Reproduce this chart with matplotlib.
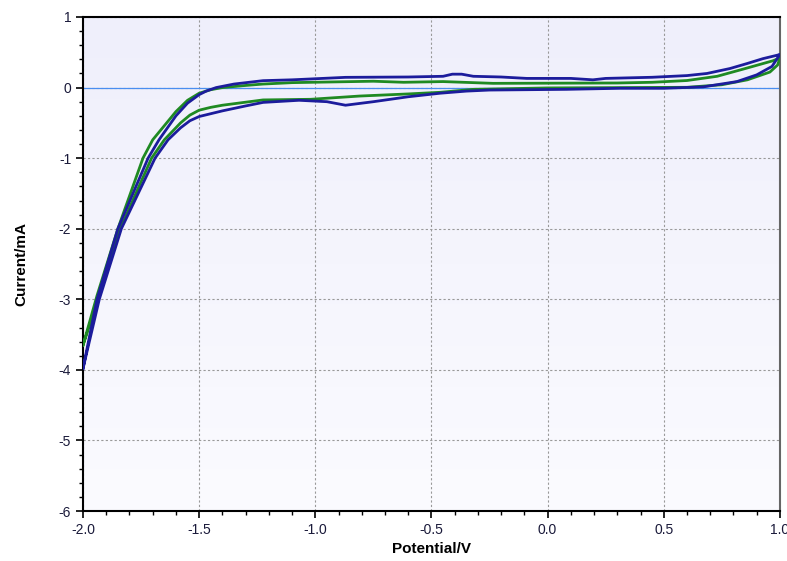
import numpy as np
import matplotlib
matplotlib.use('Agg')
import matplotlib.pyplot as plt
from matplotlib.ticker import MultipleLocator

plt.rcParams['font.family'] = ['Liberation Sans', 'DejaVu Sans']
plt.rcParams['axes.unicode_minus'] = False

# Cycle 1 (blue): cathodic-to-anodic sweep, then the return sweep
blue_fwd_v = [-2.0, -1.93, -1.835, -1.69, -1.634, -1.58, -1.54, -1.5, -1.45, -1.4,
              -1.3, -1.225, -1.07, -0.95, -0.87, -0.75, -0.6, -0.463, -0.35, -0.25,
              0.08, 0.31, 0.5, 0.67, 0.815, 0.9, 0.966, 1.0]
blue_fwd_i = [-3.98, -3.0, -2.0, -1.0, -0.74, -0.57, -0.47, -0.41, -0.37, -0.33,
              -0.26, -0.21, -0.18, -0.2, -0.25, -0.2, -0.13, -0.08, -0.05, -0.035,
              -0.025, -0.01, -0.01, 0.01, 0.085, 0.18, 0.3, 0.47]
blue_rev_v = [1.0, 0.99, 0.927, 0.858, 0.785, 0.686, 0.6, 0.45, 0.25, 0.195,
              0.1, -0.09, -0.2, -0.32, -0.37, -0.41, -0.45, -0.6, -0.87, -1.1,
              -1.225, -1.35, -1.427, -1.47, -1.5, -1.55, -1.6, -1.673, -1.72, -1.85,
              -1.94, -2.0]
blue_rev_i = [0.47, 0.46, 0.41, 0.34, 0.27, 0.2, 0.17, 0.146, 0.13, 0.11,
              0.13, 0.13, 0.15, 0.16, 0.19, 0.19, 0.16, 0.15, 0.145, 0.11,
              0.098, 0.05, 0.0, -0.05, -0.1, -0.22, -0.4, -0.74, -1.0, -2.0,
              -3.0, -3.98]

# Cycle 2 (green)
green_fwd_v = [-2.0, -1.93, -1.84, -1.705, -1.65, -1.58, -1.54, -1.5, -1.45, -1.4,
               -1.225, -1.02, -0.81, -0.6, -0.463, -0.32, 0.0, 0.6, 0.75, 0.86,
               0.957, 0.99, 1.0]
green_fwd_i = [-3.65, -2.95, -2.0, -1.0, -0.74, -0.5, -0.39, -0.32, -0.28, -0.25,
               -0.175, -0.166, -0.12, -0.09, -0.067, -0.025, -0.005, 0.004, 0.04, 0.11,
               0.22, 0.32, 0.42]
green_rev_v = [1.0, 0.97, 0.84, 0.73, 0.6, 0.45, 0.3, -0.235, -0.45, -0.62,
               -0.75, -1.1, -1.225, -1.3, -1.4, -1.45, -1.5, -1.55, -1.6, -1.7,
               -1.742, -1.85, -1.94, -2.0]
green_rev_i = [0.42, 0.38, 0.26, 0.16, 0.1, 0.075, 0.065, 0.06, 0.085, 0.075,
               0.09, 0.07, 0.05, 0.03, 0.0, -0.03, -0.08, -0.18, -0.34, -0.74,
               -1.0, -2.0, -2.95, -3.65]

fig = plt.figure(figsize=(7.87, 5.61), dpi=100)
ax = fig.add_axes([0.1055, 0.089, 0.8855, 0.8807])

# soft lavender gradient behind the plot area
grad = np.linspace(0, 1, 256).reshape(-1, 1)
cmap = matplotlib.colors.LinearSegmentedColormap.from_list(
    'bg', ['#FBFBFF', '#EFEFFB'])
ax.imshow(grad, aspect='auto', cmap=cmap, origin='lower',
          extent=[0, 1, 0, 1], transform=ax.transAxes, zorder=0)

ax.axhline(0, color='#4A8EF0', lw=0.9, zorder=2)

ax.plot(blue_fwd_v + blue_rev_v, blue_fwd_i + blue_rev_i,
        color='#1C1C9C', lw=2.0, zorder=4, solid_joinstyle='round')
ax.plot(green_fwd_v + green_rev_v, green_fwd_i + green_rev_i,
        color='#1F8A22', lw=2.0, zorder=3, solid_joinstyle='round')

ax.set_xlim(-2.0, 1.0)
ax.set_ylim(-6, 1)
ax.xaxis.set_major_locator(MultipleLocator(0.5))
ax.xaxis.set_minor_locator(MultipleLocator(0.1))
ax.yaxis.set_major_locator(MultipleLocator(1))
ax.yaxis.set_minor_locator(MultipleLocator(0.2))
ax.xaxis.set_major_formatter(matplotlib.ticker.FormatStrFormatter('%.1f'))
ax.grid(which='major', color='#999999', linestyle=(0, (2, 2)), lw=0.8, zorder=1)
ax.set_axisbelow(True)

ax.tick_params(which='major', direction='out', length=5, width=1.2,
               labelsize=10, labelcolor='#1A1A3A')
ax.tick_params(which='minor', direction='out', length=3, width=1.0)

for side in ['left', 'bottom', 'top']:
    ax.spines[side].set_color('black')
    ax.spines[side].set_linewidth(1.5)
ax.spines['right'].set_color('#666666')
ax.spines['right'].set_linewidth(1.5)

ax.set_xlabel('Potential/V', fontsize=11, fontweight='bold', labelpad=4)
ax.set_ylabel('Current/mA', fontsize=11, fontweight='bold', labelpad=22)

fig.savefig('out.png', dpi=100)
